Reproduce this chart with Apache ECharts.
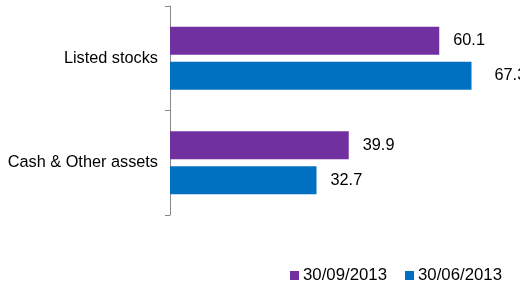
<!DOCTYPE html>
<html>
<head>
<meta charset="utf-8">
<script src="https://cdn.jsdelivr.net/npm/echarts@6/dist/echarts.min.js"></script>
<style>html,body{margin:0;padding:0;background:#fff}#c{width:520px;height:281px}</style>
</head>
<body>
<div id="c"></div>
<script>
var categories = ['Listed stocks', 'Cash & Other assets'];
var seriesNames = ['30/09/2013', '30/06/2013'];
var sep2013 = [60.1, 39.9];
var jun2013 = [67.3, 32.7];

var chart = echarts.init(document.getElementById('c'));
var font = 'Liberation Sans, Arial, sans-serif';
function mk(name, vals, color, extraDist) {
  return {
    name: name,
    type: 'bar',
    barWidth: 28,
    barGap: '25%',
    itemStyle: { color: color },
    label: { show: true, position: 'right', distance: 14, color: '#000', fontSize: 16.3, fontFamily: font },
    data: vals.map(function (v, i) {
      return extraDist && extraDist[i] ? { value: v, label: { distance: extraDist[i] } } : v;
    })
  };
}
chart.setOption({
  animation: false,
  grid: { left: 170, right: 14, top: 6, bottom: 66 },
  legend: {
    left: 285, top: 262,
    itemWidth: 9, itemHeight: 9, itemGap: 18,
    icon: 'rect',
    textStyle: { fontSize: 16.8, color: '#000', fontFamily: font, padding: [0, 0, 0, -1] },
    data: seriesNames
  },
  xAxis: { type: 'value', min: 0, max: 75, show: false },
  yAxis: {
    type: 'category', inverse: true, data: categories,
    axisLine: { show: true, lineStyle: { color: '#888', width: 1 } },
    axisTick: { show: true, length: 5, lineStyle: { color: '#888' } },
    axisLabel: { margin: 12, fontSize: 16.3, color: '#000', fontFamily: font }
  },
  series: [
    mk(seriesNames[0], sep2013, '#7030A0'),
    mk(seriesNames[1], jun2013, '#0070C0', [23, 0])
  ]
});
</script>
</body>
</html>
